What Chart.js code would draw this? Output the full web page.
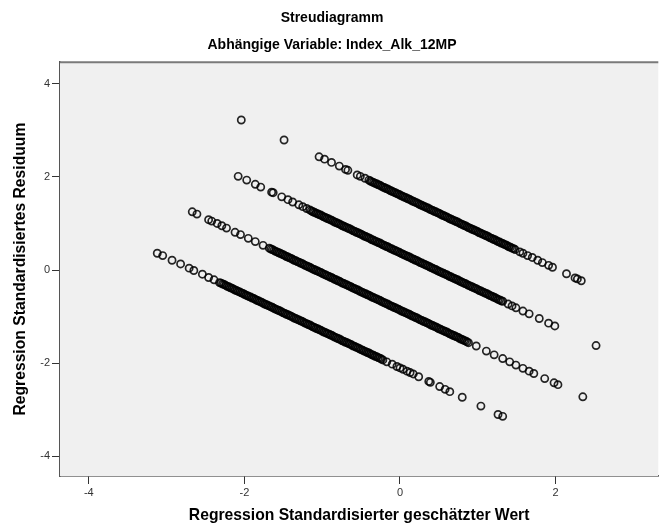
<!DOCTYPE html>
<html>
<head>
<meta charset="utf-8">
<script src="https://cdn.jsdelivr.net/npm/chart.js@4.4.1/dist/chart.umd.min.js"></script>
<style>
  html, body { margin: 0; padding: 0; background: #fff; }
  canvas { display: block; }
</style>
</head>
<body>
<canvas id="scatter" width="664" height="528"></canvas>
<script>
// Vier Bänder (je ein Wert der abhängigen Variable): [geschätzter Wert, Residuum]
const band1 = [
  [-3.12,0.36],[-3.05,0.31],[-2.93,0.21],[-2.82,0.13],[-2.71,0.04],[-2.65,-0.01],[-2.54,-0.09],[-2.46,-0.16],[-2.39,-0.21],
  [-2.32,-0.27],[-2.30,-0.28],[-2.28,-0.30],[-2.26,-0.31],[-2.24,-0.33],[-2.22,-0.35],[-2.20,-0.36],[-2.18,-0.38],[-2.16,-0.39],
  [-2.14,-0.41],[-2.12,-0.43],[-2.10,-0.44],[-2.08,-0.46],[-2.06,-0.47],[-2.04,-0.49],[-2.02,-0.50],[-2.00,-0.52],[-1.98,-0.54],
  [-1.96,-0.55],[-1.94,-0.57],[-1.92,-0.58],[-1.90,-0.60],[-1.88,-0.61],[-1.86,-0.63],[-1.84,-0.65],[-1.82,-0.66],[-1.80,-0.68],
  [-1.78,-0.69],[-1.76,-0.71],[-1.74,-0.73],[-1.72,-0.74],[-1.70,-0.76],[-1.68,-0.77],[-1.66,-0.79],[-1.64,-0.80],[-1.62,-0.82],
  [-1.60,-0.84],[-1.58,-0.85],[-1.56,-0.87],[-1.54,-0.88],[-1.52,-0.90],[-1.50,-0.92],[-1.48,-0.93],[-1.46,-0.95],[-1.44,-0.96],
  [-1.42,-0.98],[-1.40,-0.99],[-1.38,-1.01],[-1.36,-1.03],[-1.34,-1.04],[-1.32,-1.06],[-1.30,-1.07],[-1.28,-1.09],[-1.26,-1.10],
  [-1.24,-1.12],[-1.22,-1.14],[-1.20,-1.15],[-1.18,-1.17],[-1.16,-1.18],[-1.14,-1.20],[-1.12,-1.22],[-1.10,-1.23],[-1.08,-1.25],
  [-1.06,-1.26],[-1.04,-1.28],[-1.02,-1.29],[-1.00,-1.31],[-0.98,-1.33],[-0.96,-1.34],[-0.94,-1.36],[-0.92,-1.37],[-0.90,-1.39],
  [-0.88,-1.40],[-0.86,-1.42],[-0.84,-1.44],[-0.82,-1.45],[-0.80,-1.47],[-0.78,-1.48],[-0.76,-1.50],[-0.74,-1.52],[-0.72,-1.53],
  [-0.70,-1.55],[-0.68,-1.56],[-0.66,-1.58],[-0.64,-1.59],[-0.62,-1.61],[-0.60,-1.63],[-0.58,-1.64],[-0.56,-1.66],[-0.54,-1.67],
  [-0.52,-1.69],[-0.50,-1.71],[-0.48,-1.72],[-0.46,-1.74],[-0.44,-1.75],[-0.42,-1.77],[-0.40,-1.78],[-0.38,-1.80],[-0.36,-1.82],
  [-0.34,-1.83],[-0.32,-1.85],[-0.30,-1.86],[-0.28,-1.88],[-0.26,-1.89],[-0.24,-1.91],[-0.22,-1.93],
  [-0.17,-1.97],[-0.10,-2.02],[-0.04,-2.07],[0.00,-2.10],[0.04,-2.13],[0.09,-2.17],[0.13,-2.20],[0.17,-2.23],[0.24,-2.29],
  [0.37,-2.39],[0.39,-2.41],[0.51,-2.50],[0.58,-2.56],[0.64,-2.61],[0.80,-2.73],[1.04,-2.92],[1.26,-3.10],[1.32,-3.14]
];
const band2 = [
  [-2.67,1.25],[-2.61,1.20],[-2.46,1.08],[-2.42,1.05],[-2.35,1.00],[-2.29,0.95],[-2.23,0.90],[-2.12,0.81],[-2.05,0.76],
  [-1.95,0.68],[-1.86,0.61],[-1.76,0.53],
  [-1.68,0.47],[-1.66,0.45],[-1.64,0.44],[-1.62,0.42],[-1.60,0.40],[-1.58,0.39],[-1.56,0.37],[-1.54,0.36],[-1.52,0.34],
  [-1.50,0.33],[-1.48,0.31],[-1.46,0.29],[-1.44,0.28],[-1.42,0.26],[-1.40,0.25],[-1.38,0.23],[-1.36,0.21],[-1.34,0.20],
  [-1.32,0.18],[-1.30,0.17],[-1.28,0.15],[-1.26,0.14],[-1.24,0.12],[-1.22,0.10],[-1.20,0.09],[-1.18,0.07],[-1.16,0.06],
  [-1.14,0.04],[-1.12,0.02],[-1.10,0.01],[-1.08,-0.01],[-1.06,-0.02],[-1.04,-0.04],[-1.02,-0.05],[-1.00,-0.07],[-0.98,-0.09],
  [-0.96,-0.10],[-0.94,-0.12],[-0.92,-0.13],[-0.90,-0.15],[-0.88,-0.16],[-0.86,-0.18],[-0.84,-0.20],[-0.82,-0.21],[-0.80,-0.23],
  [-0.78,-0.24],[-0.76,-0.26],[-0.74,-0.28],[-0.72,-0.29],[-0.70,-0.31],[-0.68,-0.32],[-0.66,-0.34],[-0.64,-0.35],[-0.62,-0.37],
  [-0.60,-0.39],[-0.58,-0.40],[-0.56,-0.42],[-0.54,-0.43],[-0.52,-0.45],[-0.50,-0.47],[-0.48,-0.48],[-0.46,-0.50],[-0.44,-0.51],
  [-0.42,-0.53],[-0.40,-0.54],[-0.38,-0.56],[-0.36,-0.58],[-0.34,-0.59],[-0.32,-0.61],[-0.30,-0.62],[-0.28,-0.64],[-0.26,-0.65],
  [-0.24,-0.67],[-0.22,-0.69],[-0.20,-0.70],[-0.18,-0.72],[-0.16,-0.73],[-0.14,-0.75],[-0.12,-0.77],[-0.10,-0.78],[-0.08,-0.80],
  [-0.06,-0.81],[-0.04,-0.83],[-0.02,-0.84],[0.00,-0.86],[0.02,-0.88],[0.04,-0.89],[0.06,-0.91],[0.08,-0.92],[0.10,-0.94],
  [0.12,-0.95],[0.14,-0.97],[0.16,-0.99],[0.18,-1.00],[0.20,-1.02],[0.22,-1.03],[0.24,-1.05],[0.26,-1.07],[0.28,-1.08],
  [0.30,-1.10],[0.32,-1.11],[0.34,-1.13],[0.36,-1.14],[0.38,-1.16],[0.40,-1.18],[0.42,-1.19],[0.44,-1.21],[0.46,-1.22],
  [0.48,-1.24],[0.50,-1.26],[0.52,-1.27],[0.54,-1.29],[0.56,-1.30],[0.58,-1.32],[0.60,-1.33],[0.62,-1.35],[0.64,-1.37],
  [0.66,-1.38],[0.68,-1.40],[0.70,-1.41],[0.72,-1.43],[0.74,-1.44],[0.76,-1.46],[0.78,-1.48],[0.80,-1.49],[0.82,-1.51],
  [0.84,-1.52],[0.86,-1.54],[0.88,-1.56],
  [0.98,-1.63],[1.11,-1.74],[1.21,-1.82],[1.32,-1.90],[1.41,-1.97],[1.49,-2.04],[1.58,-2.11],[1.66,-2.17],[1.72,-2.22],
  [1.86,-2.33],[1.98,-2.42],[2.03,-2.46],[2.35,-2.72]
];
const band3 = [
  [-2.08,2.01],[-1.97,1.93],[-1.86,1.84],[-1.79,1.78],[-1.65,1.67],[-1.63,1.66],[-1.52,1.57],[-1.44,1.51],[-1.38,1.46],
  [-1.30,1.40],[-1.25,1.36],[-1.20,1.32],
  [-1.16,1.29],[-1.14,1.27],[-1.12,1.25],[-1.10,1.24],[-1.08,1.22],[-1.06,1.21],[-1.04,1.19],[-1.02,1.18],[-1.00,1.16],
  [-0.98,1.14],[-0.96,1.13],[-0.94,1.11],[-0.92,1.10],[-0.90,1.08],[-0.88,1.07],[-0.86,1.05],[-0.84,1.03],[-0.82,1.02],
  [-0.80,1.00],[-0.78,0.99],[-0.76,0.97],[-0.74,0.95],[-0.72,0.94],[-0.70,0.92],[-0.68,0.91],[-0.66,0.89],[-0.64,0.88],
  [-0.62,0.86],[-0.60,0.84],[-0.58,0.83],[-0.56,0.81],[-0.54,0.80],[-0.52,0.78],[-0.50,0.77],[-0.48,0.75],[-0.46,0.73],
  [-0.44,0.72],[-0.42,0.70],[-0.40,0.69],[-0.38,0.67],[-0.36,0.65],[-0.34,0.64],[-0.32,0.62],[-0.30,0.61],[-0.28,0.59],
  [-0.26,0.58],[-0.24,0.56],[-0.22,0.54],[-0.20,0.53],[-0.18,0.51],[-0.16,0.50],[-0.14,0.48],[-0.12,0.46],[-0.10,0.45],
  [-0.08,0.43],[-0.06,0.42],[-0.04,0.40],[-0.02,0.39],[0.00,0.37],[0.02,0.35],[0.04,0.34],[0.06,0.32],[0.08,0.31],
  [0.10,0.29],[0.12,0.28],[0.14,0.26],[0.16,0.24],[0.18,0.23],[0.20,0.21],[0.22,0.20],[0.24,0.18],[0.26,0.16],
  [0.28,0.15],[0.30,0.13],[0.32,0.12],[0.34,0.10],[0.36,0.09],[0.38,0.07],[0.40,0.05],[0.42,0.04],[0.44,0.02],
  [0.46,0.01],[0.48,-0.01],[0.50,-0.03],[0.52,-0.04],[0.54,-0.06],[0.56,-0.07],[0.58,-0.09],[0.60,-0.10],[0.62,-0.12],
  [0.64,-0.14],[0.66,-0.15],[0.68,-0.17],[0.70,-0.18],[0.72,-0.20],[0.74,-0.21],[0.76,-0.23],[0.78,-0.25],[0.80,-0.26],
  [0.82,-0.28],[0.84,-0.29],[0.86,-0.31],[0.88,-0.33],[0.90,-0.34],[0.92,-0.36],[0.94,-0.37],[0.96,-0.39],[0.98,-0.40],
  [1.00,-0.42],[1.02,-0.44],[1.04,-0.45],[1.06,-0.47],[1.08,-0.48],[1.10,-0.50],[1.12,-0.51],[1.14,-0.53],[1.16,-0.55],
  [1.18,-0.56],[1.20,-0.58],[1.22,-0.59],[1.24,-0.61],[1.26,-0.63],[1.28,-0.64],[1.30,-0.66],[1.32,-0.67],
  [1.39,-0.73],[1.44,-0.77],[1.49,-0.81],[1.58,-0.88],[1.66,-0.94],[1.79,-1.04],[1.91,-1.14],[1.99,-1.20],[2.52,-1.62]
];
const band4 = [
  [-2.04,3.22],[-1.49,2.79],
  [-1.04,2.43],[-0.97,2.38],[-0.88,2.31],[-0.78,2.23],[-0.70,2.16],[-0.67,2.14],[-0.55,2.04],[-0.51,2.01],[-0.45,1.97],
  [-0.40,1.93],[-0.38,1.91],[-0.36,1.89],[-0.34,1.88],[-0.32,1.86],[-0.30,1.85],[-0.28,1.83],[-0.26,1.82],[-0.24,1.80],
  [-0.22,1.78],[-0.20,1.77],[-0.18,1.75],[-0.16,1.74],[-0.14,1.72],[-0.12,1.70],[-0.10,1.69],[-0.08,1.67],[-0.06,1.66],
  [-0.04,1.64],[-0.02,1.63],[0.00,1.61],[0.02,1.59],[0.04,1.58],[0.06,1.56],[0.08,1.55],[0.10,1.53],[0.12,1.52],
  [0.14,1.50],[0.16,1.48],[0.18,1.47],[0.20,1.45],[0.22,1.44],[0.24,1.42],[0.26,1.40],[0.28,1.39],[0.30,1.37],
  [0.32,1.36],[0.34,1.34],[0.36,1.33],[0.38,1.31],[0.40,1.29],[0.42,1.28],[0.44,1.26],[0.46,1.25],[0.48,1.23],
  [0.50,1.22],[0.52,1.20],[0.54,1.18],[0.56,1.17],[0.58,1.15],[0.60,1.14],[0.62,1.12],[0.64,1.10],[0.66,1.09],
  [0.68,1.07],[0.70,1.06],[0.72,1.04],[0.74,1.03],[0.76,1.01],[0.78,0.99],[0.80,0.98],[0.82,0.96],[0.84,0.95],
  [0.86,0.93],[0.88,0.91],[0.90,0.90],[0.92,0.88],[0.94,0.87],[0.96,0.85],[0.98,0.84],[1.00,0.82],[1.02,0.80],
  [1.04,0.79],[1.06,0.77],[1.08,0.76],[1.10,0.74],[1.12,0.73],[1.14,0.71],[1.16,0.69],[1.18,0.68],[1.20,0.66],
  [1.22,0.65],[1.24,0.63],[1.26,0.61],[1.28,0.60],[1.30,0.58],[1.32,0.57],[1.34,0.55],[1.36,0.54],[1.38,0.52],
  [1.40,0.50],[1.42,0.49],[1.44,0.47],[1.46,0.46],[1.48,0.44],
  [1.54,0.39],[1.58,0.36],[1.64,0.31],[1.70,0.27],[1.77,0.21],[1.83,0.16],[1.91,0.10],[1.96,0.06],[2.14,-0.08],
  [2.25,-0.17],[2.28,-0.19],[2.33,-0.23]
];

const xTicks = [-4, -2, 0, 2];
const yTicks = [-4, -2, 0, 2, 4];

const titleLines = ['Streudiagramm', 'Abhängige Variable: Index_Alk_12MP'];
const xTitle = 'Regression Standardisierter geschätzter Wert';
const yTitle = 'Regression Standardisiertes Residuum';

const FONT = "'Liberation Sans', Arial, sans-serif";

const toPoints = (arr) => arr.map(([x, y]) => ({ x, y }));

const pointStyle = {
  pointStyle: 'circle',
  pointRadius: 3.6,
  pointBorderWidth: 1.7,
  pointBorderColor: 'rgba(0,0,0,0.85)',
  pointBackgroundColor: 'rgba(0,0,0,0)',
  showLine: false,
};

// Grauer Hintergrund und obere Rahmenlinie des Diagrammbereichs
const plotBackground = {
  id: 'plotBackground',
  beforeDatasetsDraw(chart) {
    const { ctx, chartArea: a } = chart;
    ctx.save();
    ctx.fillStyle = '#f0f0f0';
    ctx.fillRect(a.left, a.top, a.right - a.left, a.bottom - a.top);
    ctx.strokeStyle = '#7a7a7a';
    ctx.lineWidth = 2;
    ctx.beginPath();
    ctx.moveTo(a.left, a.top);
    ctx.lineTo(a.right, a.top);
    ctx.stroke();
    ctx.restore();
  },
};

new Chart(document.getElementById('scatter'), {
  type: 'scatter',
  data: {
    datasets: [
      { label: 'band1', data: toPoints(band1), ...pointStyle },
      { label: 'band2', data: toPoints(band2), ...pointStyle },
      { label: 'band3', data: toPoints(band3), ...pointStyle },
      { label: 'band4', data: toPoints(band4), ...pointStyle },
    ],
  },
  options: {
    responsive: false,
    animation: false,
    layout: { padding: 0 },
    plugins: {
      legend: { display: false },
      tooltip: { enabled: false },
      title: {
        display: true,
        text: titleLines,
        color: '#000',
        font: { family: FONT, size: 14, weight: 'bold', lineHeight: 1.9 },
        padding: { top: 5, bottom: 4 },
      },
    },
    scales: {
      x: {
        type: 'linear',
        min: -4.37,
        max: 3.32,
        afterBuildTicks: (scale) => { scale.ticks = xTicks.map((v) => ({ value: v })); },
        afterFit: (scale) => { scale.height = 52; },
        grid: { drawOnChartArea: false, drawTicks: true, tickLength: 8, color: '#333', lineWidth: 1 },
        border: { display: true, color: '#222', width: 1.5 },
        ticks: { color: '#333', font: { family: FONT, size: 11 }, padding: 2, maxRotation: 0 },
        title: {
          display: true,
          text: xTitle,
          color: '#000',
          font: { family: FONT, size: 15.7, weight: 'bold' },
          padding: { top: 0, bottom: 3 },
        },
      },
      y: {
        type: 'linear',
        min: -4.42,
        max: 4.46,
        afterBuildTicks: (scale) => { scale.ticks = yTicks.map((v) => ({ value: v })); },
        afterFit: (scale) => { scale.width = 60; },
        grid: { drawOnChartArea: false, drawTicks: true, tickLength: 8, color: '#333', lineWidth: 1 },
        border: { display: true, color: '#555', width: 1.5 },
        ticks: { color: '#333', font: { family: FONT, size: 11 }, padding: 2 },
        title: {
          display: true,
          text: yTitle,
          color: '#000',
          font: { family: FONT, size: 15.7, weight: 'bold' },
          padding: { top: 11, bottom: 0 },
        },
      },
    },
  },
  plugins: [plotBackground],
});
</script>
</body>
</html>
